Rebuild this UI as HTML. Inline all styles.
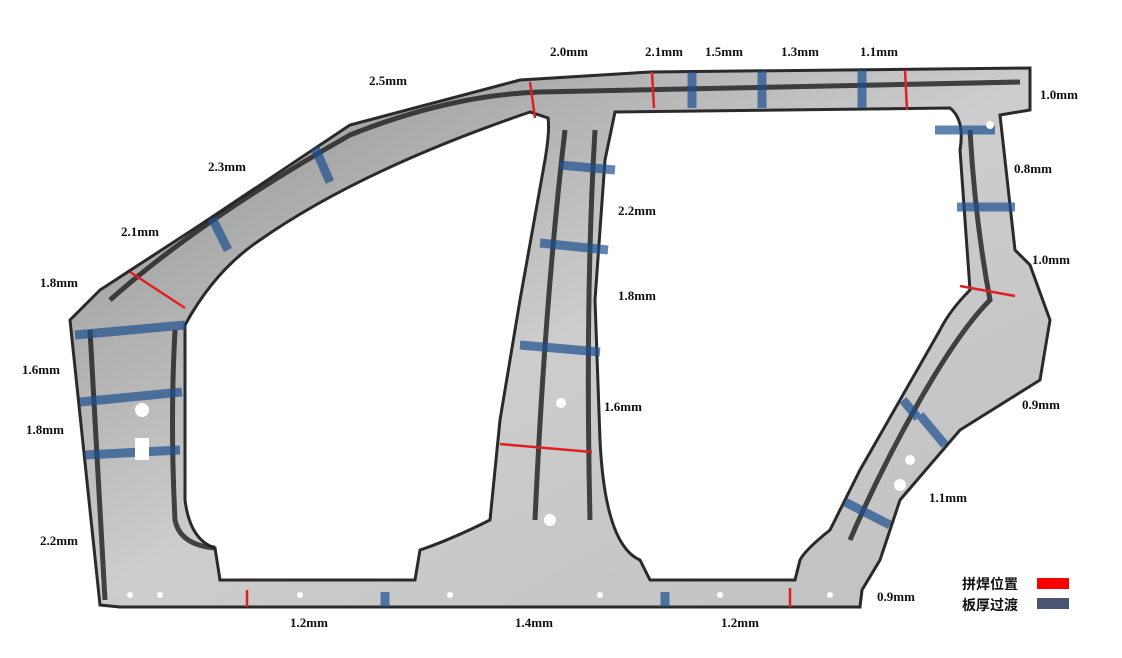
<!DOCTYPE html>
<html><head><meta charset="utf-8"><style>
html,body{margin:0;padding:0;background:#fff;width:1122px;height:658px;overflow:hidden}
svg{display:block}
text{font-family:"Liberation Serif",serif;font-weight:bold;font-size:13px;fill:#111}
.cj{font-family:"Liberation Sans","Noto Sans CJK SC",sans-serif;font-size:14px;font-weight:bold}
</style></head><body>
<svg width="1122" height="658" viewBox="0 0 1122 658">
<defs>
<linearGradient id="g" x1="0" y1="0" x2="1" y2="1">
<stop offset="0" stop-color="#8e8e8e"/><stop offset="0.5" stop-color="#cdcdcd"/><stop offset="1" stop-color="#c0c0c0"/></linearGradient>
</defs>
<path fill="url(#g)" fill-rule="evenodd" stroke="#2a2a2a" stroke-width="3" d="
M100,605 L120,607 L860,607 L862,590 L880,560 L900,500 L960,430 L1040,380 L1050,320 L1030,265 L1015,250 L1000,115 L1030,110 L1030,68 L650,72 L520,80 L350,125 L200,225 L100,290 L70,320 Z
M185,325 Q215,270 260,240 Q360,170 530,112 L548,118 Q550,130 545,160 L520,300 L500,420 L490,520 Q450,540 420,550 L415,580 L220,580 L215,548 Q190,540 185,500 Z
M615,112 L950,108 Q965,120 960,150 L970,290 Q950,310 940,330 L900,400 L860,470 L830,530 Q805,550 800,560 L795,580 L650,580 L640,560 Q605,545 600,440 L595,300 L605,160 Z"/>
<g fill="none" stroke="#1e1e1e" stroke-width="5" opacity="0.8">
<path d="M90,330 L105,600"/>
<path d="M175,330 Q170,420 175,520 Q180,545 215,548"/>
<path d="M110,300 Q200,220 350,135 Q450,95 540,92 L1020,82"/>
<path d="M565,130 Q545,300 535,520"/>
<path d="M595,130 Q585,300 590,520"/>
<path d="M970,130 Q975,220 990,300 Q960,330 920,400 Q880,470 850,540"/>
</g>
<g stroke="#e02020" stroke-width="2.5">
<line x1="130" y1="272" x2="185" y2="308"/>
<line x1="530" y1="82" x2="535" y2="118"/>
<line x1="652" y1="72" x2="654" y2="108"/>
<line x1="905" y1="70" x2="907" y2="110"/>
<line x1="960" y1="286" x2="1015" y2="296"/>
<line x1="500" y1="444" x2="592" y2="452"/>
<line x1="247" y1="590" x2="247" y2="607"/>
<line x1="790" y1="588" x2="790" y2="607"/>
</g>
<g stroke="#1d4f8f" stroke-width="9" opacity="0.7">
<line x1="75" y1="335" x2="185" y2="325"/>
<line x1="80" y1="402" x2="182" y2="392"/>
<line x1="85" y1="455" x2="180" y2="450"/>
<line x1="315" y1="148" x2="330" y2="182"/>
<line x1="212" y1="218" x2="228" y2="250"/>
<line x1="560" y1="165" x2="615" y2="170"/>
<line x1="540" y1="243" x2="608" y2="250"/>
<line x1="520" y1="345" x2="600" y2="352"/>
<line x1="692" y1="72" x2="692" y2="108"/>
<line x1="762" y1="71" x2="762" y2="108"/>
<line x1="862" y1="70" x2="862" y2="108"/>
<line x1="935" y1="130" x2="995" y2="130"/>
<line x1="957" y1="207" x2="1015" y2="207"/>
<line x1="903" y1="400" x2="918" y2="418"/>
<line x1="920" y1="415" x2="945" y2="445"/>
<line x1="845" y1="502" x2="890" y2="525"/>
<line x1="385" y1="592" x2="385" y2="607"/>
<line x1="665" y1="592" x2="665" y2="607"/>
</g>
<g fill="#fff">
<circle cx="142" cy="410" r="7"/><rect x="135" y="438" width="14" height="22"/>
<circle cx="561" cy="403" r="5"/><circle cx="550" cy="520" r="6"/>
<circle cx="990" cy="125" r="4"/><circle cx="900" cy="485" r="6"/><circle cx="910" cy="460" r="5"/>
<circle cx="130" cy="595" r="3"/><circle cx="160" cy="595" r="3"/><circle cx="300" cy="595" r="3"/><circle cx="450" cy="595" r="3"/><circle cx="600" cy="595" r="3"/><circle cx="720" cy="595" r="3"/><circle cx="830" cy="595" r="3"/>
</g>
<text x="369" y="85">2.5mm</text>
<text x="550" y="56">2.0mm</text>
<text x="645" y="56">2.1mm</text>
<text x="705" y="56">1.5mm</text>
<text x="781" y="56">1.3mm</text>
<text x="860" y="56">1.1mm</text>
<text x="1040" y="99">1.0mm</text>
<text x="208" y="171">2.3mm</text>
<text x="1014" y="173">0.8mm</text>
<text x="121" y="236">2.1mm</text>
<text x="618" y="215">2.2mm</text>
<text x="1032" y="264">1.0mm</text>
<text x="40" y="287">1.8mm</text>
<text x="618" y="300">1.8mm</text>
<text x="22" y="374">1.6mm</text>
<text x="1022" y="409">0.9mm</text>
<text x="604" y="411">1.6mm</text>
<text x="26" y="434">1.8mm</text>
<text x="929" y="502">1.1mm</text>
<text x="40" y="545">2.2mm</text>
<text x="877" y="601">0.9mm</text>
<text x="290" y="627">1.2mm</text>
<text x="515" y="627">1.4mm</text>
<text x="721" y="627">1.2mm</text>
<text class="cj" x="962" y="589">拼焊位置</text>
<text class="cj" x="962" y="610">板厚过渡</text>
<rect x="1037" y="578" width="32" height="11" fill="#ff0000"/>
<rect x="1037" y="598" width="32" height="11" fill="#4b5472"/>
</svg>
</body></html>
